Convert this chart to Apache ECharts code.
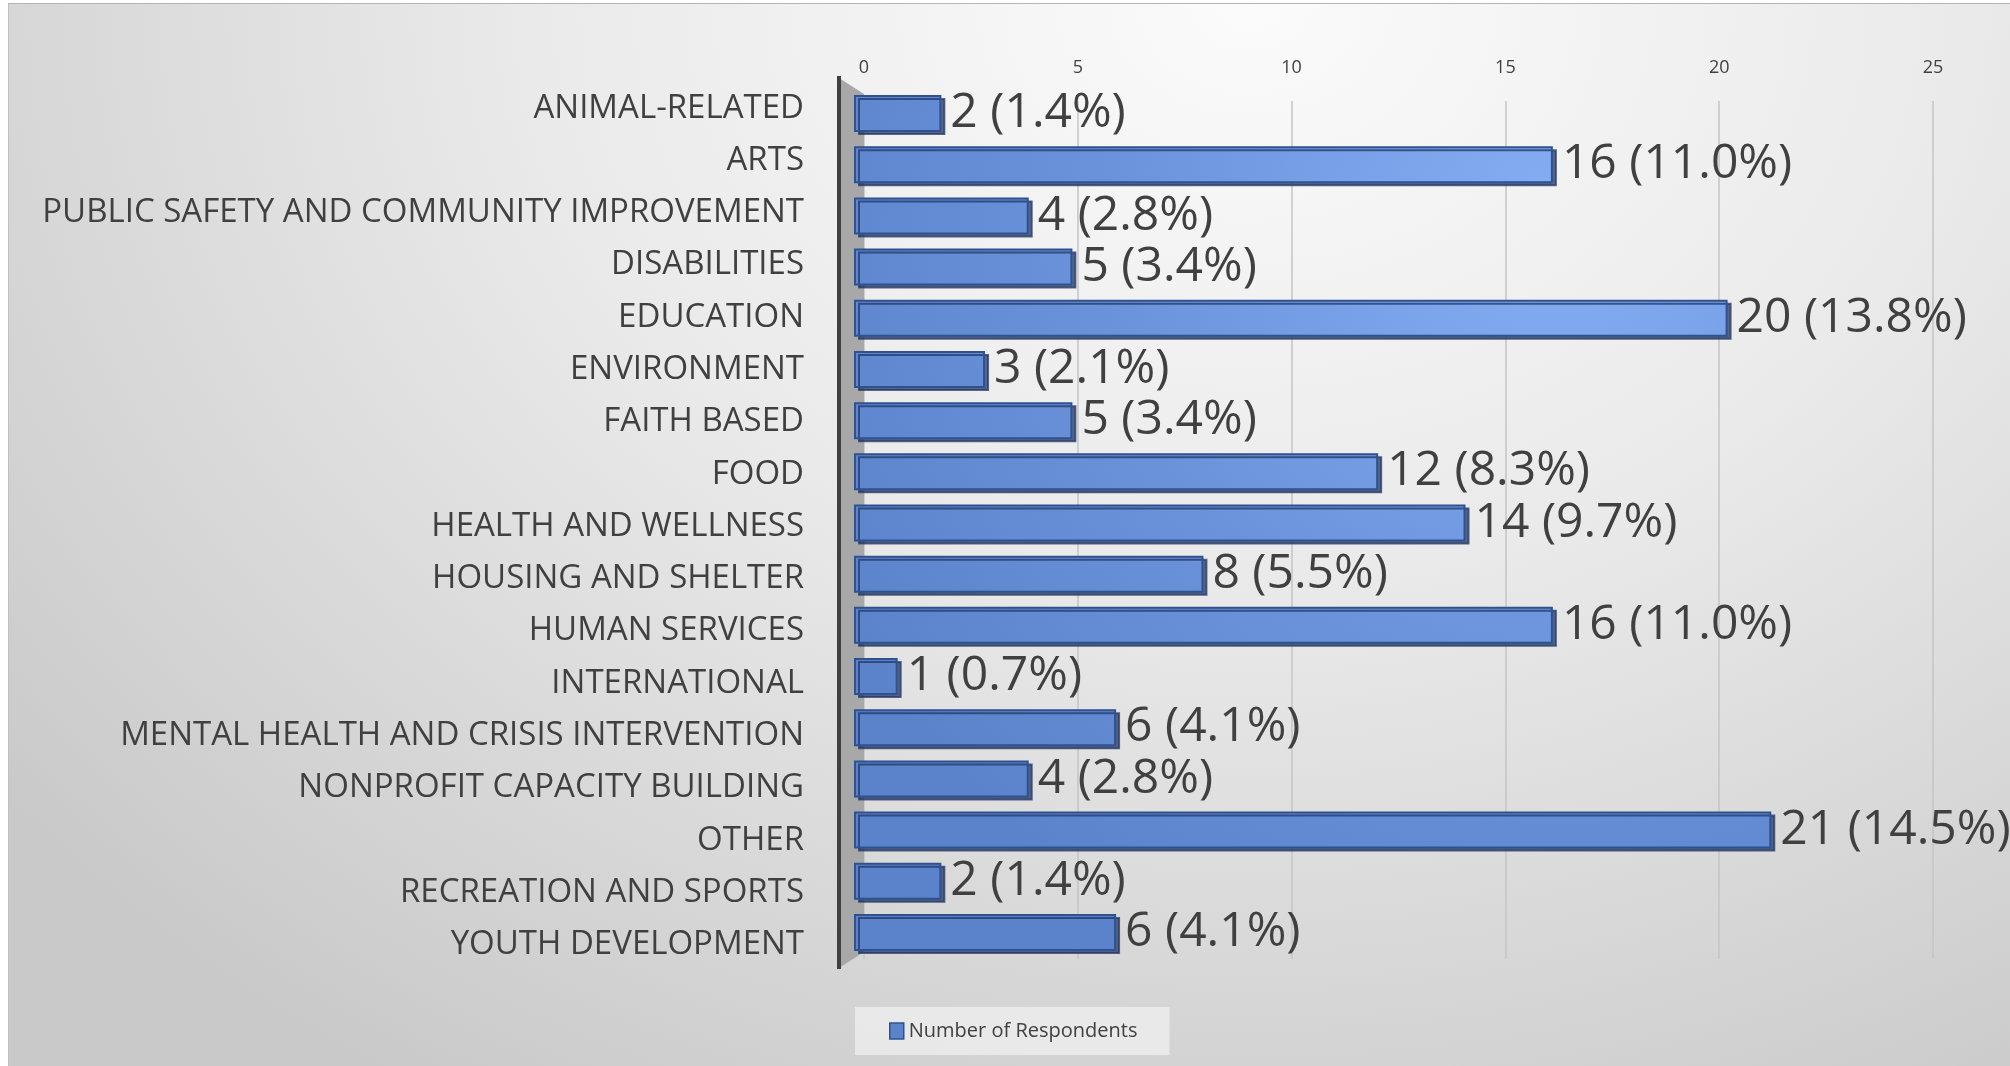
<!DOCTYPE html>
<html lang="en">
<head>
    <meta charset="UTF-8">
    <title>Number of Respondents</title>
    <style>
        * {
            margin: 0;
            padding: 0;
        }

        body {
            background: #ffffff;
        }

        #main {
            position: absolute;
            left: 8px;
            top: 3px;
            width: 2002px;
            height: 1063px;
            border-top: 1px solid #b4b4b4;
            border-left: 1px solid #c0c0c0;
            background: radial-gradient(ellipse 80% 120% at 62% 0%, #fbfbfb 0%, #eaeaea 45%, #c9c9c9 100%);
        }
    </style>
    <script src="https://cdn.jsdelivr.net/npm/echarts@6/dist/echarts.min.js"></script>
</head>
<body>
<div id="main"></div>
<script>
    var categories = [
        'ANIMAL-RELATED',
        'ARTS',
        'PUBLIC SAFETY AND COMMUNITY IMPROVEMENT',
        'DISABILITIES',
        'EDUCATION',
        'ENVIRONMENT',
        'FAITH BASED',
        'FOOD',
        'HEALTH AND WELLNESS',
        'HOUSING AND SHELTER',
        'HUMAN SERVICES',
        'INTERNATIONAL',
        'MENTAL HEALTH AND CRISIS INTERVENTION',
        'NONPROFIT CAPACITY BUILDING',
        'OTHER',
        'RECREATION AND SPORTS',
        'YOUTH DEVELOPMENT'
    ];
    var respondents = [2, 16, 4, 5, 20, 3, 5, 12, 14, 8, 16, 1, 6, 4, 21, 2, 6];
    var xTicks = [0, 5, 10, 15, 20, 25];

    var total = respondents.reduce(function (a, b) { return a + b; }, 0);
    var txt = '#404040';
    var font = '"Open Sans", "Noto Sans", sans-serif';

    var chart = echarts.init(document.getElementById('main'));

    var option = {
        animation: false,
        textStyle: { fontFamily: font },
        grid: [
            // back wall: tick labels and gridlines
            { left: 855, right: 78, top: 97, bottom: 108 },
            // front: the bars
            { left: 845, right: 65, top: 84, bottom: 109 },
            // category labels (spread a little wider than the bars, as in the 3D view)
            { left: 845, right: 65, top: 78, bottom: 96 }
        ],
        graphic: [
            {
                type: 'polygon',
                z: 1,
                shape: { points: [[830, 74], [855, 90], [855, 948], [830, 964]] },
                style: { fill: '#a8a8a8' }
            },
            {
                type: 'line',
                z: 1,
                shape: { x1: 830, y1: 72, x2: 830, y2: 965 },
                style: { stroke: '#404040', lineWidth: 4 }
            }
        ],
        legend: {
            left: 846,
            top: 1003,
            data: ['Number of Respondents'],
            backgroundColor: 'rgba(236,236,236,0.85)',
            padding: [14, 32, 14, 34],
            itemWidth: 14,
            itemHeight: 16,
            itemGap: 6,
            icon: 'rect',
            itemStyle: { borderColor: '#2f528f', borderWidth: 1.5 },
            textStyle: { color: txt, fontSize: 20, fontFamily: font }
        },
        xAxis: [
            {
                gridIndex: 0,
                type: 'value',
                position: 'top',
                min: xTicks[0],
                max: xTicks[xTicks.length - 1],
                interval: xTicks[1] - xTicks[0],
                axisLine: { show: false },
                axisTick: { show: false },
                axisLabel: { color: txt, fontSize: 18, margin: 24 },
                splitLine: { lineStyle: { color: '#c4c4c4', width: 1.5 } }
            },
            {
                gridIndex: 1,
                type: 'value',
                min: xTicks[0],
                max: xTicks[xTicks.length - 1],
                show: false
            },
            {
                gridIndex: 2,
                type: 'value',
                min: xTicks[0],
                max: xTicks[xTicks.length - 1],
                show: false
            }
        ],
        yAxis: [
            {
                gridIndex: 0,
                type: 'category',
                data: categories,
                show: false
            },
            {
                gridIndex: 1,
                type: 'category',
                inverse: true,
                data: categories,
                show: false
            },
            {
                gridIndex: 2,
                type: 'category',
                inverse: true,
                data: categories,
                axisLine: { show: false },
                axisTick: { show: false },
                splitLine: { show: false },
                axisLabel: {
                    color: txt,
                    fontSize: 33,
                    margin: 50,
                    fontFamily: font
                }
            }
        ],
        series: [
            {
                name: 'Number of Respondents',
                type: 'bar',
                xAxisIndex: 1,
                yAxisIndex: 1,
                z: 3,
                barWidth: 37,
                data: respondents,
                itemStyle: {
                    color: {
                        type: 'radial',
                        x: 1550, y: 220, r: 820,
                        global: true,
                        colorStops: [
                            { offset: 0, color: '#86aef4' },
                            { offset: 0.55, color: '#6a93dc' },
                            { offset: 1, color: '#5a83cc' }
                        ]
                    },
                    borderColor: '#2f528f',
                    borderWidth: 2,
                    shadowColor: 'rgba(35,55,100,0.75)',
                    shadowOffsetX: 4,
                    shadowOffsetY: 3,
                    shadowBlur: 0
                },
                label: {
                    show: true,
                    position: 'right',
                    distance: 9,
                    color: txt,
                    fontSize: 48,
                    fontFamily: font,
                    formatter: function (p) {
                        return p.value + ' (' + (p.value / total * 100).toFixed(1) + '%)';
                    }
                }
            }
        ]
    };

    chart.setOption(option);
</script>
</body>
</html>
